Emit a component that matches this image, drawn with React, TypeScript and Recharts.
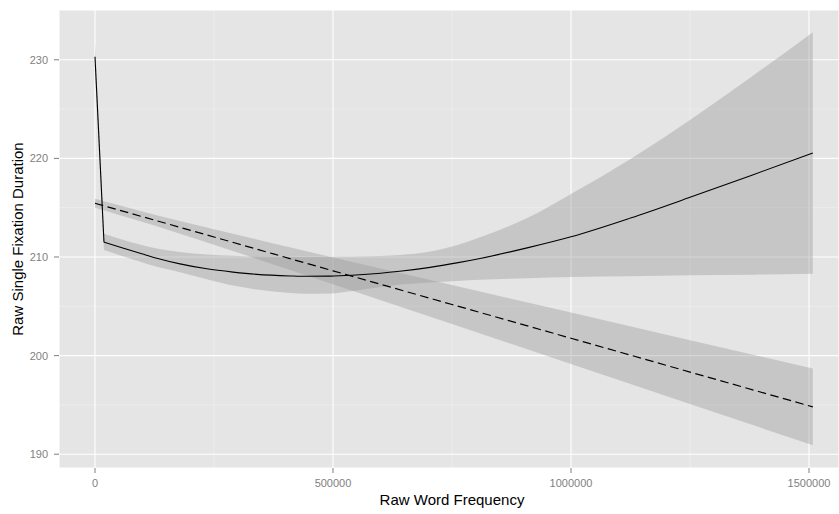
import {
  ComposedChart,
  Area,
  Line,
  XAxis,
  YAxis,
  CartesianGrid,
} from 'recharts'

// solid curve (smooth fit) with its confidence band
const solidX = [0, 18900, 60000, 100000, 130000, 178600, 235000, 290000, 340000, 410000, 445000, 494000, 540000, 600000, 640000, 704000, 760000, 809000, 910000, 1000000, 1125000, 1250000, 1380000, 1508000]
const solidY = [230.3, 211.5, 210.88, 210.3, 209.88, 209.3, 208.8, 208.47, 208.24, 208.08, 208.04, 208.06, 208.15, 208.35, 208.55, 208.95, 209.4, 209.85, 210.95, 212.05, 213.95, 216.05, 218.3, 220.55]
const solidLo = [228.9, 210.7, 210.05, 209.45, 209.0, 208.45, 207.75, 207.1, 206.7, 206.35, 206.27, 206.3, 206.55, 206.95, 207.2, 207.42, 207.57, 207.68, 207.85, 207.97, 208.05, 208.15, 208.2, 208.3]
const solidHi = [231.7, 212.35, 211.72, 211.2, 210.85, 210.5, 210.25, 210.12, 210.05, 210.0, 210.0, 210.03, 210.05, 210.1, 210.2, 210.55, 211.2, 212.0, 214.0, 216.4, 219.95, 223.9, 228.3, 232.8]

// dashed curve (linear fit) with its confidence band
const dashedX = [0, 125000, 250000, 375000, 500000, 750000, 1000000, 1250000, 1508000]
const dashedY = [215.45, 213.74, 212.03, 210.31, 208.6, 205.18, 201.76, 198.33, 194.8]
const dashedLo = [215.0, 213.19, 211.25, 209.25, 207.24, 203.21, 199.16, 195.1, 190.9]
const dashedHi = [215.9, 214.29, 212.81, 211.37, 209.96, 207.15, 204.36, 201.56, 198.7]

const xTicks = [0, 500000, 1000000, 1500000]
const xMinor = [250000, 750000, 1250000]
const yTicks = [190, 200, 210, 220, 230]
const yMinor = [195, 205, 215, 225]

const solidData = solidX.map((x, i) => ({ x, y: solidY[i], band: [solidLo[i], solidHi[i]] }))
const dashedData = dashedX.map((x, i) => ({ x, y: dashedY[i], band: [dashedLo[i], dashedHi[i]] }))
// the sharp drop at the start is a straight segment, the rest is a smooth curve
const solidDrop = solidData.slice(0, 2)
const solidCurve = solidData.slice(1)

const tickStyle = { fill: '#7F7F7F', fontSize: 11 }

export default function App() {
  return (
    <div style={{ position: 'absolute', left: 0, top: 0, fontFamily: "'Liberation Sans', Arial, sans-serif" }}>
      <ComposedChart width={839} height={514} margin={{ top: 10, right: 0, bottom: 0, left: 0 }}>
        <CartesianGrid
          fill="#E5E5E5"
          stroke="#F2F2F2"
          strokeWidth={0.6}
          horizontalValues={yMinor}
          verticalValues={xMinor}
        />
        <CartesianGrid fill="none" stroke="#FFFFFF" strokeWidth={1.1} />
        <XAxis
          dataKey="x"
          type="number"
          domain={[-75600, 1563000]}
          ticks={xTicks}
          allowDataOverflow
          height={46}
          axisLine={false}
          tickLine={{ stroke: '#7F7F7F' }}
          tickSize={5}
          tickMargin={6}
          tick={tickStyle}
          label={{ value: 'Raw Word Frequency', position: 'insideBottom', offset: 9, fill: '#000', fontSize: 15, dx: 3 }}
        />
        <YAxis
          type="number"
          domain={[188.6, 235.05]}
          ticks={yTicks}
          allowDataOverflow
          width={59}
          axisLine={false}
          tickLine={{ stroke: '#7F7F7F' }}
          tickSize={5}
          tickMargin={6}
          tick={tickStyle}
          label={{ value: 'Raw Single Fixation Duration', angle: -90, position: 'insideLeft', offset: 18, fill: '#000', fontSize: 15, style: { textAnchor: 'middle' } }}
        />
        <Area data={dashedData} dataKey="band" type="linear" stroke="none" fill="#999999" fillOpacity={0.4} isAnimationActive={false} dot={false} activeDot={false} />
        <Area data={solidDrop} dataKey="band" type="linear" stroke="none" fill="#999999" fillOpacity={0.4} isAnimationActive={false} dot={false} activeDot={false} />
        <Area data={solidCurve} dataKey="band" type="monotone" stroke="none" fill="#999999" fillOpacity={0.4} isAnimationActive={false} dot={false} activeDot={false} />
        <Line data={dashedData} dataKey="y" type="linear" stroke="#000" strokeWidth={1.2} strokeDasharray="8.5 4.5" dot={false} activeDot={false} isAnimationActive={false} />
        <Line data={solidDrop} dataKey="y" type="linear" stroke="#000" strokeWidth={1.1} dot={false} activeDot={false} isAnimationActive={false} />
        <Line data={solidCurve} dataKey="y" type="monotone" stroke="#000" strokeWidth={1.1} dot={false} activeDot={false} isAnimationActive={false} />
      </ComposedChart>
    </div>
  )
}
